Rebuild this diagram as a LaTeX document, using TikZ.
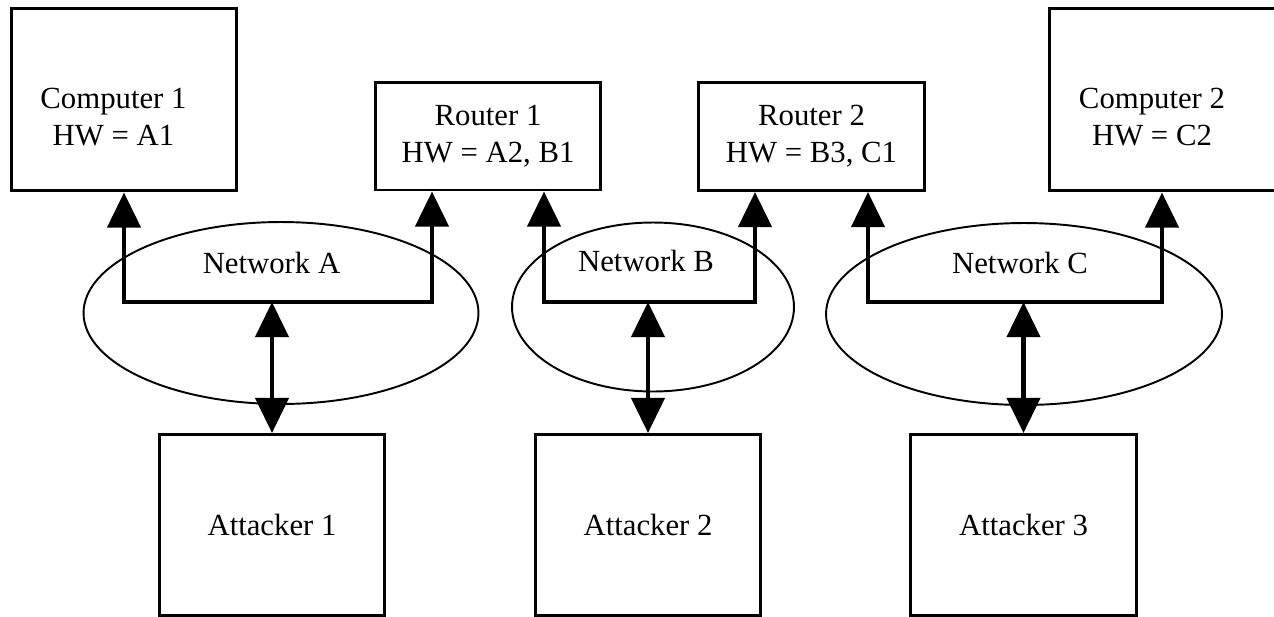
\documentclass[tikz,border=0pt]{standalone}
\usepackage{fontspec}
\setmainfont{Liberation Serif}
\usepackage{tikz}
\usetikzlibrary{calc,
                shapes.geometric,
                arrows.meta
                }

\tikzset{
  kasten/.style={draw, line width=1.7pt, minimum width=4.52cm, inner sep=0pt,
                 font=\fontsize{17.5}{21}\selectfont, align=center},
  netz/.style={draw, ellipse, line width=1.1pt, inner sep=0pt},
  schrift/.style={font=\fontsize{17.5}{21}\selectfont, align=center, inner sep=0pt},
  spitze/.tip={Triangle[width=18.7pt,length=20pt]},
  leitung/.style={line width=2.8pt, spitze-spitze}
}

\begin{document}
\begin{tikzpicture}[x=0.02cm, y=-0.02cm]
    \useasboundingbox (0,0) rectangle (1274,616);

    % Rechner und Router oben
    \node[kasten, minimum height=3.66cm] (comp1) at (124,99.5) {};
    \node[schrift] (comp1txt) at ($(comp1.center)+(-10.5,17.5)$) {Computer 1\\HW = A1};
    \node[kasten, minimum height=2.16cm] (router1) at (488,136) {Router 1\\HW = A2, B1};
    \node[kasten, minimum height=2.16cm] (router2) at (811.5,136.5) {Router 2\\HW = B3, C1};
    \node[kasten, minimum height=3.66cm] (comp2) at (1162,99.5) {};
    \node[schrift] (comp2txt) at ($(comp2.center)+(-10,17.5)$) {Computer 2\\HW = C2};

    % Netze
    \node[netz, minimum width=7.9cm, minimum height=3.64cm] (netA) at (281,313) {};
    \node[netz, minimum width=5.64cm, minimum height=3.38cm] (netB) at (653,307) {};
    \node[netz, minimum width=7.92cm, minimum height=3.64cm] (netC) at (1024,314) {};
    \node[schrift] (netAtxt) at (271.5,263) {Network A};
    \node[schrift] (netBtxt) at (646,261) {Network B};
    \node[schrift] (netCtxt) at (1020,263) {Network C};

    % Angreifer unten
    \node[kasten, minimum height=3.62cm] (att1) at (272,525) {Attacker 1};
    \node[kasten, minimum height=3.62cm] (att2) at (648,525) {Attacker 2};
    \node[kasten, minimum height=3.62cm] (att3) at (1023.5,525) {Attacker 3};

    % Anschlusspunkte der Router
    \coordinate (r1a) at ($(router1.south)+(-56,0)$);
    \coordinate (r1b) at ($(router1.south)+(56,0)$);
    \coordinate (r2b) at ($(router2.south)+(-56.5,0)$);
    \coordinate (r2c) at ($(router2.south)+(56.5,0)$);

    % Busleitungen in den Netzen
    \coordinate (busA) at (att1.north |- 0,302);
    \coordinate (busB) at (att2.north |- 0,302);
    \coordinate (busC) at (att3.north |- 0,302);

    % Zeichne Verbindungen
    \draw[leitung] (comp1.south) |- (busA) -| (r1a);
    \draw[leitung] (r1b) |- (busB) -| (r2b);
    \draw[leitung] (r2c) |- (busC) -| (comp2.south);
    \draw[leitung] (busA) -- (att1.north);
    \draw[leitung] (busB) -- (att2.north);
    \draw[leitung] (busC) -- (att3.north);

\end{tikzpicture}
\end{document}
